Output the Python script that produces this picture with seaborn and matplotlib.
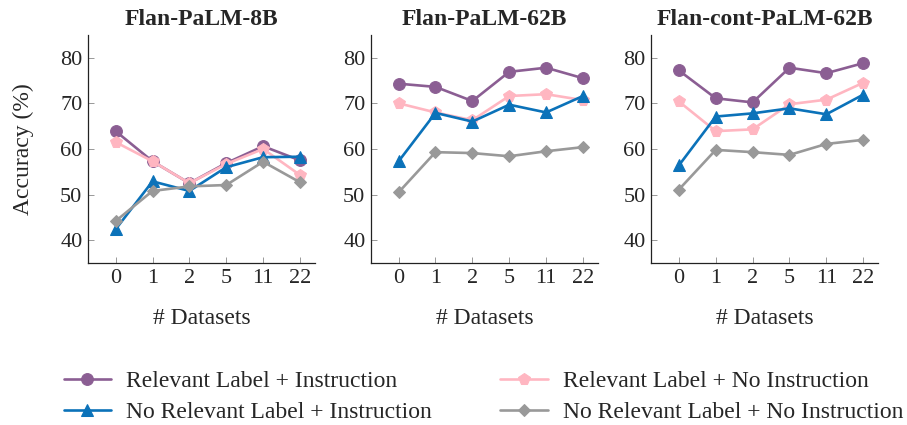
import numpy as np
import pandas as pd
import matplotlib
matplotlib.use('Agg')
import matplotlib.pyplot as plt
import seaborn as sns

# --- data ---
datasets = ["0", "1", "2", "5", "11", "22"]
models = ["Flan-PaLM-8B", "Flan-PaLM-62B", "Flan-cont-PaLM-62B"]
series_names = [
    "Relevant Label + Instruction",
    "Relevant Label + No Instruction",
    "No Relevant Label + Instruction",
    "No Relevant Label + No Instruction",
]

rel_instr = [
    [63.9, 57.3, 52.5, 56.9, 60.6, 57.5],
    [74.3, 73.6, 70.5, 76.9, 77.8, 75.5],
    [77.2, 71.1, 70.2, 77.8, 76.6, 78.8],
]
rel_noinstr = [
    [61.5, 57.3, 52.5, 56.7, 60.0, 54.3],
    [70.0, 68.0, 66.3, 71.6, 72.0, 70.7],
    [70.4, 63.9, 64.3, 69.8, 70.8, 74.5],
]
norel_instr = [
    [42.4, 52.9, 50.8, 56.0, 58.2, 58.3],
    [57.3, 67.9, 66.0, 69.7, 68.0, 71.6],
    [56.4, 67.1, 67.8, 68.9, 67.6, 71.9],
]
norel_noinstr = [
    [44.2, 50.8, 51.8, 52.1, 57.2, 52.7],
    [50.5, 59.3, 59.1, 58.4, 59.5, 60.4],
    [51.1, 59.8, 59.3, 58.7, 61.1, 62.0],
]
all_values = [rel_instr, rel_noinstr, norel_instr, norel_noinstr]

colors = ["#8b5e93", "#ffb6c1", "#0b72b9", "#999999"]
markers = ["o", "p", "^", "D"]
msizes = [8.5, 8.5, 8.5, 6.5]

sns.set_style("ticks")
plt.rcParams['font.family'] = ['Liberation Serif', 'DejaVu Serif']

fig = plt.figure(figsize=(9.07, 4.25), dpi=100)
lefts = [0.097, 0.409, 0.718]
width = 0.25
bottom, top = 0.381, 0.918
FS = 17

x = np.arange(len(datasets))
handles = []
for i, name in enumerate(models):
    ax = fig.add_axes([lefts[i], bottom, width, top - bottom])
    for s in range(4):
        df = pd.DataFrame({"x": x, "y": all_values[s][i]})
        sns.lineplot(data=df, x="x", y="y", ax=ax, color=colors[s],
                     marker=markers[s], markersize=msizes[s],
                     markeredgecolor=colors[s], linewidth=1.9,
                     legend=False)
    ax.set_xlim(-0.75, 5.4)
    ax.set_ylim(35, 85)
    ax.set_yticks([40, 50, 60, 70, 80])
    ax.set_xticks(x)
    ax.set_xticklabels(datasets)
    ax.tick_params(direction='in', length=4, width=0.6, color='#888888',
                   labelsize=16, pad=4)
    for sp in ["top", "right"]:
        ax.spines[sp].set_visible(False)
    for sp in ["left", "bottom"]:
        ax.spines[sp].set_linewidth(0.9)
        ax.spines[sp].set_color('#222222')
    ax.set_title(name, fontsize=FS, fontweight='bold', pad=7)
    ax.set_xlabel("# Datasets", fontsize=FS, labelpad=15)
    if i == 0:
        ax.set_ylabel("Accuracy (%)", fontsize=FS, labelpad=19)
        handles = ax.get_lines()[:4]
    else:
        ax.set_ylabel("")

order = [0, 2, 1, 3]
fig.legend([handles[k] for k in order], [series_names[k] for k in order],
           loc='lower center', bbox_to_anchor=(0.533, -0.045), ncol=2,
           frameon=False, fontsize=FS, columnspacing=2.9,
           handlelength=2.0, handletextpad=0.65, labelspacing=0.38)

fig.savefig("out.png", dpi=100)
